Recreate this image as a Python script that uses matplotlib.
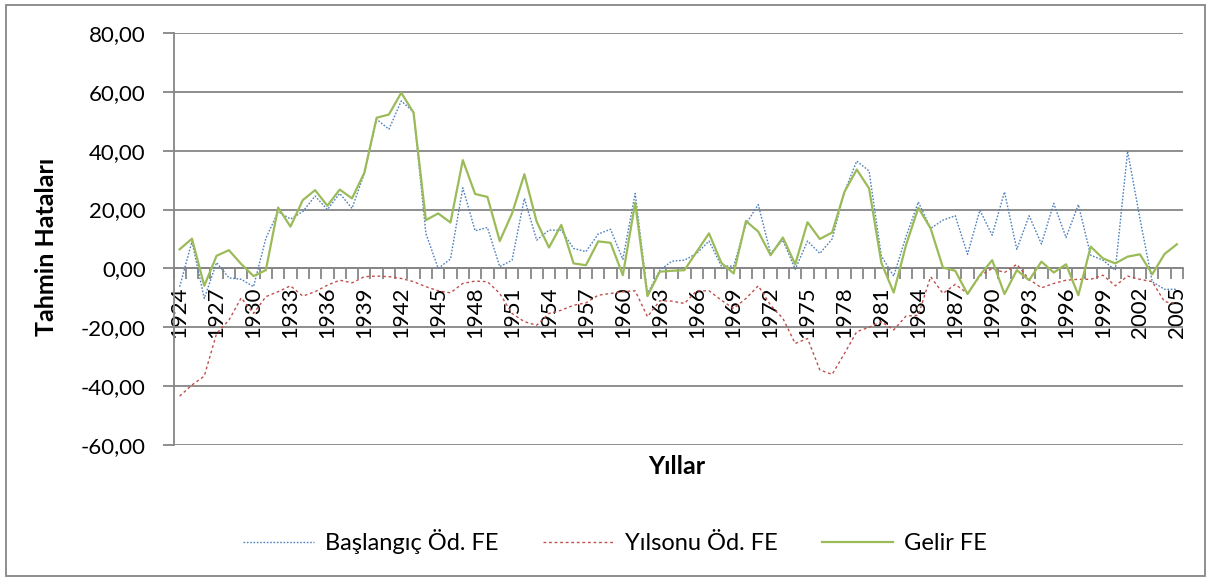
import numpy as np
import matplotlib
matplotlib.use("Agg")
import matplotlib.pyplot as plt
from matplotlib.patches import Rectangle

plt.rcParams['font.family'] = ['Lato', 'DejaVu Sans']

years = list(range(1924, 2006))

# Başlangıç Öd. FE
baslangic = [-6.2, 9.1, -10.2, 2.0, -3.2, -3.7, -6.2, 10.2, 19.3, 16.8,
             19.3, 24.6, 20.0, 25.5, 20.4, 32.3, 50.7, 47.3, 56.9, 53.2,
             11.9, 0.0, 3.2, 27.4, 12.8, 13.9, 0.6, 2.8, 23.8, 9.6,
             13.0, 13.0, 6.8, 5.7, 11.7, 13.3, 3.1, 25.5, -8.5, -0.6,
             2.5, 2.8, 5.1, 9.3, 0.8, 0.8, 15.1, 21.7, 5.1, 9.6,
             -0.3, 9.3, 5.1, 10.0, 26.0, 36.5, 33.1, 4.2, -2.6, 10.8,
             22.6, 13.6, 16.4, 17.9, 4.8, 19.8, 11.3, 26.0, 6.5, 17.9,
             8.3, 22.1, 10.5, 21.7, 4.5, 2.8, -0.6, 39.9, 17.0, -4.5,
             -7.1, -7.1]

# Yılsonu Öd. FE
yilsonu = [-43.4, -39.6, -36.6, -22.1, -17.6, -10.0, -15.3, -9.6, -7.9, -5.9,
           -9.4, -7.9, -5.7, -4.0, -4.9, -2.8, -2.6, -2.8, -3.4, -4.5,
           -6.2, -7.6, -8.3, -5.1, -4.3, -4.5, -8.5, -15.3, -18.1, -19.3,
           -15.3, -14.2, -12.5, -11.7, -9.1, -8.5, -7.9, -7.6, -16.4, -11.0,
           -11.1, -11.9, -7.6, -7.6, -10.8, -13.6, -10.2, -5.9, -12.5, -17.0,
           -25.5, -23.8, -34.5, -36.0, -28.9, -21.5, -20.0, -18.1, -20.9, -16.2,
           -15.9, -2.8, -8.5, -5.4, -8.5, -2.5, 0.0, -1.4, 1.4, -3.7,
           -6.6, -5.1, -4.0, -3.7, -3.7, -2.3, -5.9, -2.6, -3.7, -4.5,
           -11.3, -11.9]

# Gelir FE
gelir = [6.5, 10.1, -5.9, 4.3, 6.2, 1.5, -2.6, -0.6, 20.7, 14.2,
         23.2, 26.6, 21.3, 26.8, 23.8, 32.5, 51.2, 52.3, 59.7, 52.9,
         16.4, 18.7, 15.6, 36.8, 25.3, 24.3, 9.3, 18.7, 32.0, 15.9,
         7.1, 14.8, 1.7, 1.1, 9.2, 8.7, -2.3, 22.3, -9.4, -1.1,
         -0.8, -0.6, 5.7, 11.9, 1.9, -1.7, 16.1, 12.5, 4.5, 10.5,
         1.4, 15.7, 10.0, 12.2, 26.0, 33.6, 27.2, 1.9, -8.2, 7.9,
         20.6, 13.6, 0.3, -0.8, -8.7, -2.3, 2.8, -8.7, -0.6, -4.0,
         2.3, -1.4, 1.4, -9.1, 7.4, 3.4, 1.7, 4.0, 4.8, -2.0,
         4.9, 8.2]

yticks = list(range(-60, 81, 20))
gray = '#868686'
fs = 16

fig = plt.figure(figsize=(12.12, 5.81), dpi=100)
ax = fig.add_axes([173.5/1212, 1-445/581, (1183-173.5)/1212, (445-33)/581])

ax.plot(years, baslangic, color='#4f81bd', lw=1.0, ls=(0, (1.2, 1.2)), label='Başlangıç Öd. FE', zorder=3)
ax.plot(years, yilsonu, color='#c0504d', lw=1.0, ls=(0, (2, 2)), label='Yılsonu Öd. FE', zorder=3)
ax.plot(years, gelir, color='#9bbb59', lw=1.6, label='Gelir FE', zorder=3)

ax.set_xlim(years[0] - 0.5, years[-1] + 0.5)
ax.set_ylim(-60, 80)
ax.set_yticks(yticks)
ax.set_yticklabels([f"{v:.2f}".replace('.', ',') for v in yticks])
ax.yaxis.grid(True, color=gray, lw=1.3)
ax.set_axisbelow(True)

ax.set_xticks(np.arange(years[0] - 0.5, years[-1] + 1, 1))
ax.set_xticklabels([])
ax.set_xticks(years[::3], minor=True)
ax.set_xticklabels([str(y) for y in years[::3]], minor=True)

for s in ['top', 'right']:
    ax.spines[s].set_visible(False)
ax.spines['bottom'].set_position(('data', 0))
ax.spines['bottom'].set_color(gray)
ax.spines['left'].set_color(gray)
ax.spines['bottom'].set_linewidth(1.3)
ax.spines['left'].set_linewidth(1.3)

ax.tick_params(axis='y', direction='out', length=8, width=1.3, color=gray, labelsize=fs, pad=12)
ax.tick_params(axis='x', which='major', direction='out', length=8, width=1.3, color=gray)
ax.tick_params(axis='x', which='minor', length=0, pad=13, labelsize=fs, labelrotation=90)

fig.text(47/1212, 1-247/581, 'Tahmin Hataları', rotation=90, ha='center', va='center',
         fontsize=18, fontweight='bold')
fig.text(677/1212, 1-467/581, 'Yıllar', ha='center', va='center', fontsize=18, fontweight='bold')

fig.legend(loc='center', bbox_to_anchor=(615/1212, 1-542/581), ncol=3, frameon=False,
           fontsize=17, handlelength=3.0, handletextpad=0.45, columnspacing=1.9)

fig.add_artist(Rectangle((6/1212, 5/581), 1199/1212, 571/581, transform=fig.transFigure,
                         fill=False, ec=gray, lw=1.3))

fig.savefig('out.png', dpi=100)
